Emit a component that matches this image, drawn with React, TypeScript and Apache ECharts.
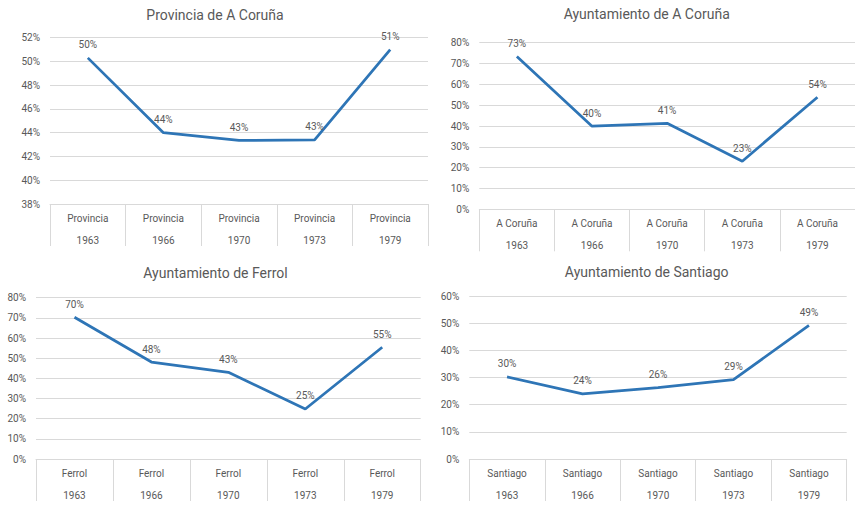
import React, { useEffect, useRef } from "react";
import * as echarts from "echarts";

const years = ["1963", "1966", "1970", "1973", "1979"];
const places = ["Provincia", "A Coruña", "Ferrol", "Santiago"];
const titles = [
  "Provincia de A Coruña",
  "Ayuntamiento de A Coruña",
  "Ayuntamiento de Ferrol",
  "Ayuntamiento de Santiago",
];
const provinciaValues = [50.3, 44.0, 43.35, 43.4, 51.0];
const coruniaValues = [73.4, 39.9, 41.3, 23.1, 53.8];
const ferrolValues = [70.3, 48.1, 43.0, 24.8, 55.4];
const santiagoValues = [30.2, 24.0, 26.3, 29.2, 49.2];
const yMins = [38, 0, 0, 0];
const yMaxs = [52, 80, 80, 60];
const yIntervals = [2, 10, 10, 10];

const seriesValues = [provinciaValues, coruniaValues, ferrolValues, santiagoValues];

const grids = [
  { left: 50, top: 37.7, width: 378, height: 166.3 },
  { left: 479.3, top: 42.7, width: 383, height: 166.6 },
  { left: 36, top: 297.7, width: 384.7, height: 166 },
  { left: 469.3, top: 296, width: 377.4, height: 168 },
];
const titlePos = [
  { x: 215, y: 15 },
  { x: 646.7, y: 14 },
  { x: 215.5, y: 273 },
  { x: 646.7, y: 271.7 },
];

const TEXT = "#595959";
const GRID = "#D9D9D9";
const BLUE = "#2E75B6";
const FONT = "Roboto";

export default function App() {
  const ref = useRef<HTMLDivElement>(null);
  useEffect(() => {
    if (!ref.current) return;
    const chart = echarts.init(ref.current, undefined, { renderer: "svg" });
    const option: any = {
      animation: false,
      backgroundColor: "#ffffff",
      grid: grids.map((g) => ({ ...g, containLabel: false })),
      graphic: titles.map((t, i) => ({
        type: "text",
        x: titlePos[i].x,
        y: titlePos[i].y,
        style: {
          text: t,
          fill: TEXT,
          font: `14px ${FONT}`,
          textAlign: "center",
          textVerticalAlign: "middle",
        },
      })),
      xAxis: places.map((p, i) => ({
        type: "category",
        gridIndex: i,
        boundaryGap: true,
        data: years.map((y) => `${p}\n${y}`),
        axisLine: { show: true, lineStyle: { color: GRID, width: 1 } },
        axisTick: {
          show: true,
          interval: 0,
          length: 42,
          lineStyle: { color: GRID, width: 1 },
        },
        axisLabel: {
          interval: 0,
          margin: 3,
          color: TEXT,
          fontFamily: FONT,
          fontSize: 10,
          lineHeight: 22,
        },
        splitLine: { show: false },
      })),
      yAxis: places.map((p, i) => ({
        type: "value",
        gridIndex: i,
        min: yMins[i],
        max: yMaxs[i],
        interval: yIntervals[i],
        axisLine: { show: false },
        axisTick: { show: false },
        axisLabel: {
          margin: 10,
          color: TEXT,
          fontFamily: FONT,
          fontSize: 10,
          formatter: "{value}%",
        },
        splitLine: { show: true, lineStyle: { color: GRID, width: 1 } },
      })),
      series: seriesValues.map((vals, i) => ({
        type: "line",
        xAxisIndex: i,
        yAxisIndex: i,
        data: vals,
        symbol: "circle",
        symbolSize: 0,
        showSymbol: true,
        lineStyle: { color: BLUE, width: 2.75 },
        itemStyle: { color: BLUE },
        label: {
          show: true,
          position: "top",
          distance: 8,
          color: TEXT,
          fontFamily: FONT,
          fontSize: 10,
          formatter: (p: any) => `${Math.round(p.value)}%`,
        },
      })),
    };
    chart.setOption(option);
    return () => chart.dispose();
  }, []);
  return (
    <div
      ref={ref}
      style={{ position: "absolute", left: 0, top: 0, width: 855, height: 506 }}
    />
  );
}
